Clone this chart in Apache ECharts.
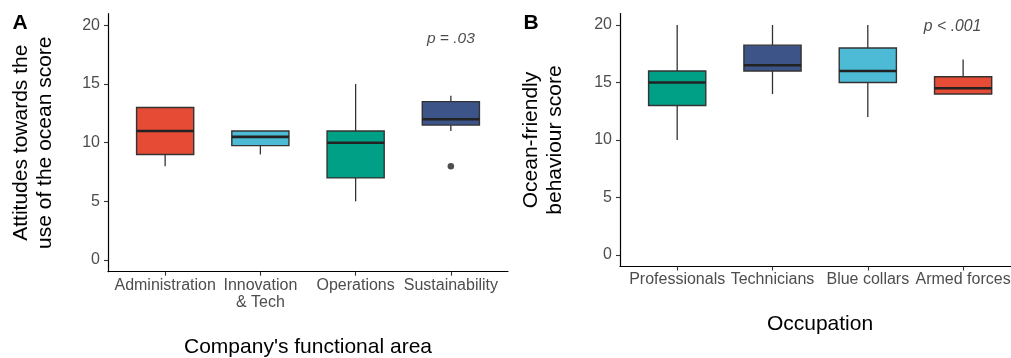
<!DOCTYPE html>
<html>
<head>
<meta charset="utf-8">
<script src="https://cdn.jsdelivr.net/npm/echarts@6/dist/echarts.min.js"></script>
<style>
html,body{margin:0;padding:0;background:#fff;overflow:hidden;width:1011px;height:358px;}
#chart{width:1030px;height:358px;}
</style>
</head>
<body>
<div id="chart"></div>
<script>
// ---- Data ----
const categoriesA = ['Administration', 'Innovation\n& Tech', 'Operations', 'Sustainability'];
const lowerWhiskerA = [8, 9, 5, 11];
const q1A = [9, 9.75, 7, 11.5];
const medianA = [11, 10.5, 10, 12];
const q3A = [13, 11, 11, 13.5];
const upperWhiskerA = [13, 11, 15, 14];
const outlierCategoryA = [4];
const outlierValueA = [8];

const categoriesB = ['Professionals', 'Technicians', 'Blue collars', 'Armed forces'];
const lowerWhiskerB = [10, 14, 12, 14];
const q1B = [13, 16, 15, 14];
const medianB = [15, 16.5, 16, 14.5];
const q3B = [16, 18.25, 18, 15.5];
const upperWhiskerB = [20, 20, 20, 17];

const yTicks = [0, 5, 10, 15, 20];
const xTicks = [1, 2, 3, 4];

const pTextA = 'p = .03';
const pTextB = 'p < .001';

// ---- Styles ----
const colorsA = ['#E64B35', '#4DBBD5', '#00A087', '#3C5488'];
const colorsB = ['#00A087', '#3C5488', '#4DBBD5', '#E64B35'];
const FONT = '"Liberation Sans", Arial, Helvetica, sans-serif';

function boxData(lo, q1, med, q3, hi) {
  return lo.map((v, i) => [i + 1, lo[i], q1[i], med[i], q3[i], hi[i]]);
}

function makeRender(colors) {
  return function (params, api) {
    const x = api.value(0);
    const pLo = api.coord([x, api.value(1)]);
    const pQ1 = api.coord([x, api.value(2)]);
    const pMed = api.coord([x, api.value(3)]);
    const pQ3 = api.coord([x, api.value(4)]);
    const pHi = api.coord([x, api.value(5)]);
    const half = api.size([0.6, 0])[0] / 2;
    const cx = pMed[0];
    return {
      type: 'group',
      children: [
        { type: 'line', shape: { x1: cx, y1: pLo[1], x2: cx, y2: pQ1[1] }, style: { stroke: '#333333', lineWidth: 1.3 } },
        { type: 'line', shape: { x1: cx, y1: pQ3[1], x2: cx, y2: pHi[1] }, style: { stroke: '#333333', lineWidth: 1.3 } },
        { type: 'rect', shape: { x: cx - half, y: pQ3[1], width: half * 2, height: pQ1[1] - pQ3[1] },
          style: { fill: colors[params.dataIndex], stroke: '#333333', lineWidth: 1.4 } },
        { type: 'line', shape: { x1: cx - half, y1: pMed[1], x2: cx + half, y2: pMed[1] }, style: { stroke: '#222222', lineWidth: 2.6 } }
      ]
    };
  };
}

function xAxisCfg(gridIndex, cats) {
  return {
    type: 'value', gridIndex: gridIndex, min: 0.4, max: 4.6,
    splitLine: { show: false },
    axisLine: { show: true, onZero: false, lineStyle: { color: '#000', width: 1.2 } },
    axisTick: { show: true, length: 4, customValues: xTicks, lineStyle: { color: '#333', width: 1.1 } },
    axisLabel: { customValues: xTicks, margin: 5, color: '#4D4D4D', fontSize: 16, fontFamily: FONT, lineHeight: 17,
      formatter: v => cats[Math.round(v) - 1] || '' }
  };
}
function yAxisCfg(gridIndex) {
  return {
    type: 'value', gridIndex: gridIndex, min: -1, max: 21,
    splitLine: { show: false },
    axisLine: { show: true, onZero: false, lineStyle: { color: '#000', width: 1.2 } },
    axisTick: { show: true, length: 4, customValues: yTicks, lineStyle: { color: '#333', width: 1.1 } },
    axisLabel: { customValues: yTicks, margin: 8, color: '#4D4D4D', fontSize: 16, fontFamily: FONT }
  };
}

const chart = echarts.init(document.getElementById('chart'), null, { renderer: 'canvas' });
const option = {
  animation: false,
  backgroundColor: '#ffffff',
  grid: [
    { left: 108, top: 13.7, width: 400, height: 258 },
    { left: 620, top: 13.5, width: 400.3, height: 253 }
  ],
  xAxis: [xAxisCfg(0, categoriesA), xAxisCfg(1, categoriesB)],
  yAxis: [yAxisCfg(0), yAxisCfg(1)],
  series: [
    { type: 'custom', xAxisIndex: 0, yAxisIndex: 0, renderItem: makeRender(colorsA),
      data: boxData(lowerWhiskerA, q1A, medianA, q3A, upperWhiskerA), encode: { x: 0, y: [1, 2, 3, 4, 5] } },
    { type: 'scatter', xAxisIndex: 0, yAxisIndex: 0, symbolSize: 6.5, itemStyle: { color: '#222222' },
      data: outlierCategoryA.map((c, i) => [c, outlierValueA[i]]) },
    { type: 'custom', xAxisIndex: 1, yAxisIndex: 1, renderItem: makeRender(colorsB),
      data: boxData(lowerWhiskerB, q1B, medianB, q3B, upperWhiskerB), encode: { x: 0, y: [1, 2, 3, 4, 5] } },
    { type: 'scatter', xAxisIndex: 0, yAxisIndex: 0, symbolSize: 0.1, itemStyle: { color: 'rgba(0,0,0,0)' },
      label: { show: true, position: 'inside', formatter: pTextA, fontStyle: 'italic', fontSize: 15.5, fontFamily: FONT, color: '#1a1a1a' },
      data: [[4, 18.9]] },
    { type: 'scatter', xAxisIndex: 1, yAxisIndex: 1, symbolSize: 0.1, itemStyle: { color: 'rgba(0,0,0,0)' },
      label: { show: true, position: 'inside', formatter: pTextB, fontStyle: 'italic', fontSize: 15.8, fontFamily: FONT, color: '#1a1a1a' },
      data: [[3.89, 19.85]] }
  ],
  graphic: [
    { type: 'text', x: 20, y: 23, style: { text: 'A', font: 'bold 21px ' + FONT, fill: '#000', textAlign: 'center', textVerticalAlign: 'middle' } },
    { type: 'text', x: 531, y: 23, style: { text: 'B', font: 'bold 21px ' + FONT, fill: '#000', textAlign: 'center', textVerticalAlign: 'middle' } },
    { type: 'text', x: 33, y: 142.7, rotation: Math.PI / 2,
      style: { text: 'Attitudes towards the\nuse of the ocean score', font: '21px ' + FONT, lineHeight: 24, fill: '#000', textAlign: 'center', textVerticalAlign: 'middle' } },
    { type: 'text', x: 308, y: 347,
      style: { text: "Company's functional area", font: '21px ' + FONT, fill: '#000', textAlign: 'center', textVerticalAlign: 'middle' } },
    { type: 'text', x: 543, y: 140, rotation: Math.PI / 2,
      style: { text: 'Ocean-friendly\nbehaviour score', font: '21px ' + FONT, lineHeight: 24, fill: '#000', textAlign: 'center', textVerticalAlign: 'middle' } },
    { type: 'text', x: 820, y: 324,
      style: { text: 'Occupation', font: '21px ' + FONT, fill: '#000', textAlign: 'center', textVerticalAlign: 'middle' } }
  ]
};
chart.setOption(option);
</script>
</body>
</html>
